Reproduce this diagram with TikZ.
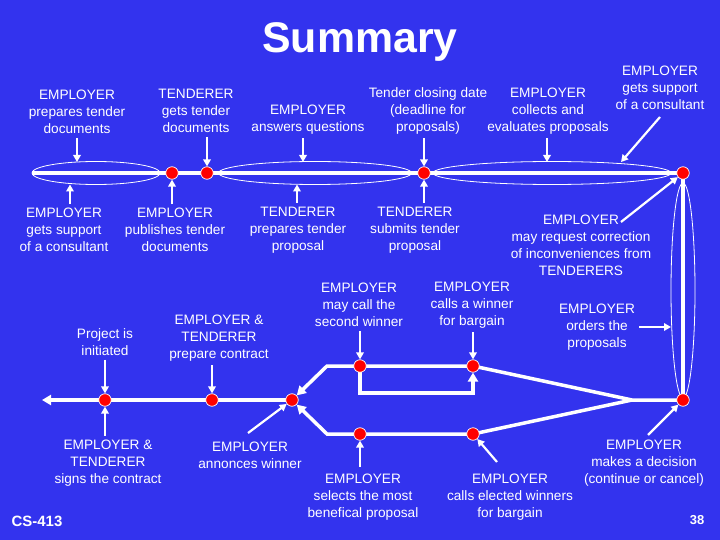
\documentclass[tikz,border=0pt]{standalone}
\usepackage{fontspec}
\setmainfont{Liberation Sans}
\usetikzlibrary{arrows.meta,shapes.geometric}
\definecolor{bg}{RGB}{51,51,238}
\pgfdeclarelayer{paper}
\pgfdeclarelayer{lines}
\pgfsetlayers{paper,lines,main}
\begin{document}
\begin{tikzpicture}[x=1bp,y=-1bp,
  lbl/.style={text=white, align=center, font=\fontsize{13.7}{17}\selectfont, inner sep=0pt},
  dot/.style={circle, fill=red, draw=white, line width=0.7bp, minimum size=12.5bp, inner sep=0pt},
  flow/.style={white, line width=3.5bp},
  flowarr/.style={flow, -{Triangle[length=9bp,width=10bp]}},
  arr/.style={white, line width=2.2bp, -{Triangle[length=7bp,width=7.5bp]}, shorten <=4bp},
  oval/.style={ellipse, draw=white, line width=0.8bp, inner sep=0pt}
]
\begin{pgfonlayer}{paper}
\fill[bg] (0,0) rectangle (720,540);
\end{pgfonlayer}
\useasboundingbox (0,0) rectangle (720,540);

% title and corner texts
\node[text=white, font=\bfseries\fontsize{43}{43}\selectfont, inner sep=0pt] (title) at (360,42) {Summary};
\node[text=white, font=\bfseries\fontsize{15}{15}\selectfont, inner sep=0pt] (cs) at (37,521) {CS-413};
\node[text=white, font=\bfseries\fontsize{13}{13}\selectfont, inner sep=0pt] (pg) at (697,520) {38};

% dots
\node[dot] (d1) at (172,173) {};
\node[dot] (d2) at (207,173) {};
\node[dot] (d3) at (424,173) {};
\node[dot] (d4) at (683,173) {};
\node[dot] (d5) at (683,400) {};
\node[dot] (d6) at (473,366) {};
\node[dot] (d7) at (473,434) {};
\node[dot] (d8) at (360,366) {};
\node[dot] (d9) at (360,434) {};
\node[dot] (d10) at (292,400) {};
\node[dot] (d11) at (212,400) {};
\node[dot] (d12) at (105,400) {};

% helper coordinates
\coordinate (start) at (32,173);
\coordinate (j) at (632,400);
\coordinate (b1) at (327,366);
\coordinate (b2) at (327,434);
\coordinate (l1) at (360,393);
\coordinate (l2) at (473,393);
\coordinate (endL) at (42,400);

\begin{pgfonlayer}{lines}
% ellipses
\node[oval, minimum width=128bp, minimum height=23bp] (e1) at (96,173) {};
\node[oval, minimum width=193bp, minimum height=23bp] (e2) at (315,173) {};
\node[oval, minimum width=238bp, minimum height=23bp] (e3) at (552,173) {};
\node[oval, minimum width=24bp, minimum height=215bp] (e4) at (683,290.5) {};
% main flow lines
\draw[flow] (start) -- (d1.center) -- (d2.center) -- (d3.center) -- (d4.center);
\draw[flow] (d4.center) -- (d5.center);
\draw[flow] (d5.center) -- (j) -- (d6.center) -- (d8.center);
\draw[flow] (j) -- (d7.center) -- (d9.center);
\draw[flowarr] (d8.center) -- (b1) -- (d10);
\draw[flowarr] (d9.center) -- (b2) -- (d10);
\draw[flowarr] (d8.center) -- (l1) -- (l2) -- (d6);
\draw[flowarr] (d10.center) -- (d11.center) -- (d12.center) -- (endL);
\end{pgfonlayer}

% labels
\node[lbl] (t1) at (77,112) {EMPLOYER\\prepares tender\\documents};
\node[lbl] (t2) at (196,111) {TENDERER\\gets tender\\documents};
\node[lbl] (t3) at (308,119.5) {EMPLOYER\\answers questions};
\node[lbl] (t4) at (428,111) {Tender closing date\\(deadline for\\proposals)};
\node[lbl] (t5) at (548,111) {EMPLOYER\\collects and\\evaluates proposals};
\node[lbl] (t6) at (660,88) {EMPLOYER\\gets support\\of a consultant};
\node[lbl] (t7) at (64,230) {EMPLOYER\\gets support\\of a consultant};
\node[lbl] (t8) at (175,230) {EMPLOYER\\publishes tender\\documents};
\node[lbl] (t9) at (298,230) {TENDERER\\prepares tender\\proposal};
\node[lbl] (t10) at (415,230) {TENDERER\\submits tender\\proposal};
\node[lbl] (t11) at (581,245) {EMPLOYER\\may request correction\\of inconveniences from\\TENDERERS};
\node[lbl] (t12) at (359,305) {EMPLOYER\\may call the\\second winner};
\node[lbl] (t13) at (472,305) {EMPLOYER\\calls a winner\\for bargain};
\node[lbl] (t14) at (597,327) {EMPLOYER\\orders the\\proposals};
\node[lbl] (t15) at (105,342) {Project is\\initiated};
\node[lbl] (t16) at (219,338) {EMPLOYER \&\\TENDERER\\prepare contract};
\node[lbl] (t17) at (108,463) {EMPLOYER \&\\TENDERER\\signs the contract};
\node[lbl] (t18) at (250,455.5) {EMPLOYER\\annonces winner};
\node[lbl] (t19) at (363,497) {EMPLOYER\\selects the most\\benefical proposal};
\node[lbl] (t20) at (510,497) {EMPLOYER\\calls elected winners\\for bargain};
\node[lbl] (t21) at (644,463) {EMPLOYER\\makes a decision\\(continue or cancel)};

% arrow targets / sources
\coordinate (a1) at (77,162);
\coordinate (a3) at (303,162);
\coordinate (a5) at (547,162);
\coordinate (s6) at (660,117);
\coordinate (a6) at (621,162);
\coordinate (a7) at (70,184.5);
\coordinate (a9) at (297,184.5);
\coordinate (s11) at (621,222);
\coordinate (a14) at (671,327);
\coordinate (s18) at (248,433);
\coordinate (s20) at (497,462);
\coordinate (s21) at (648,435);

% label arrows
\draw[arr] (t1.south -| a1) -- (a1);
\draw[arr] (t2.south -| d2) -- (d2);
\draw[arr] (t3.south -| a3) -- (a3);
\draw[arr] (t4.south -| d3) -- (d3);
\draw[arr] (t5.south -| a5) -- (a5);
\draw[arr, shorten <=0pt] (s6) -- (a6);
\draw[arr] (t7.north -| a7) -- (a7);
\draw[arr] (t8.north -| d1) -- (d1);
\draw[arr] (t9.north -| a9) -- (a9);
\draw[arr] (t10.north -| d3) -- (d3);
\draw[arr, shorten <=0pt] (s11) -- (d4);
\draw[arr] (t14.east |- a14) -- (a14);
\draw[arr] (t12.south -| d8) -- (d8);
\draw[arr] (t13.south -| d6) -- (d6);
\draw[arr] (t15.south -| d12) -- (d12);
\draw[arr] (t16.south -| d11) -- (d11);
\draw[arr] (t17.north -| d12) -- (d12);
\draw[arr, shorten <=0pt] (s18) -- (d10);
\draw[arr, shorten <=7bp] (t19.north -| d9) -- (d9);
\draw[arr, shorten <=0pt] (s20) -- (d7);
\draw[arr, shorten <=0pt] (s21) -- (d5);
\end{tikzpicture}
\end{document}
